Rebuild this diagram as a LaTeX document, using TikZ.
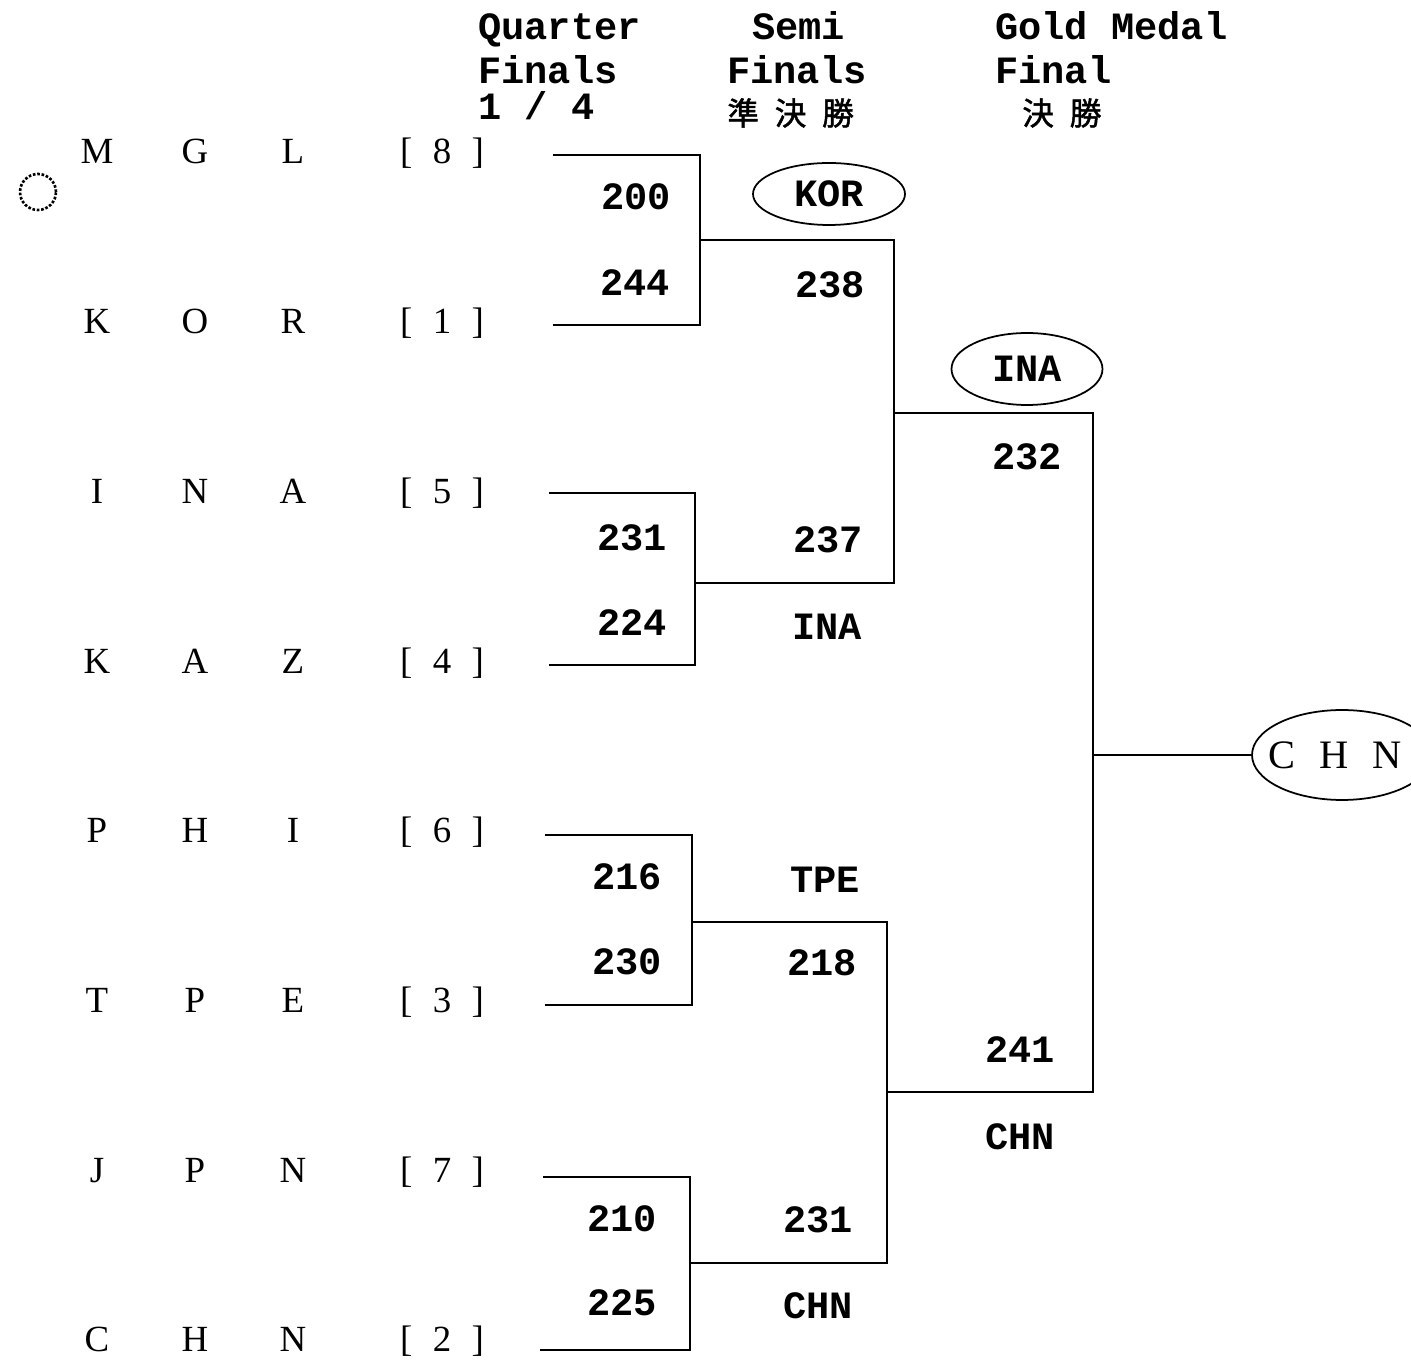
\documentclass[tikz,border=0pt]{standalone}
\usepackage{fontspec}
\setmainfont{Liberation Serif}
\setmonofont{Liberation Mono}
\newfontfamily\cjk{Noto Sans CJK JP}[FakeBold=1.5]
\usepackage{tikz}
\usetikzlibrary{shapes.geometric}

\begin{document}
\begin{tikzpicture}[x=0.02cm, y=-0.02cm,
  team/.style={font=\fontsize{21}{21}\selectfont, anchor=base, inner sep=0pt},
  score/.style={font=\ttfamily\bfseries\fontsize{22}{22}\selectfont, anchor=base, inner sep=0pt},
  head/.style={font=\ttfamily\bfseries\fontsize{22}{22}\selectfont, anchor=base west, inner sep=0pt},
  kanji/.style={font=\cjk\fontsize{18}{18}\selectfont, anchor=base west, inner sep=0pt},
  medal/.style={ellipse, draw, line width=1pt, inner sep=0pt},
  bracket/.style={line width=1.3pt}]
  \useasboundingbox (0,0) rectangle (1411,1364);
  % column heads
  \node[head] (hq1) at (478,40) {Quarter};
  \node[head] (hq2) at (478,84) {Finals};
  \node[head] (hq3) at (478,120) {1 / 4};
  \node[head] (hs1) at (752,40) {Semi};
  \node[head] (hs2) at (727,84) {Finals};
  \node[kanji] (hs3) at (727,125) {準\hspace{9pt}決\hspace{9pt}勝};
  \node[head] (hg1) at (995,40) {Gold Medal};
  \node[head] (hg2) at (995,84) {Final};
  \node[kanji] (hg3) at (1022,125) {決\hspace{9pt}勝};
  % teams and seeds
  \foreach \a/\b/\c/\s [count=\i] in {M/G/L/8, K/O/R/1, I/N/A/5, K/A/Z/4, P/H/I/6, T/P/E/3, J/P/N/7, C/H/N/2} {
    \pgfmathsetmacro\yb{164+169.7*(\i-1)}
    \node[team] (t\i a) at (97,\yb) {\a};
    \node[team] (t\i b) at (195,\yb) {\b};
    \node[team] (t\i c) at (293,\yb) {\c};
    \node[team] (seed\i) at (442,\yb) {[\hspace{0.55em}\s\hspace{0.55em}]};
  }
  \draw[densely dotted, line width=1.5pt] (38,192) circle [radius=0.36cm];
  % bracket points
  \coordinate (e1) at (553,155); \coordinate (e2) at (553,325);
  \coordinate (e3) at (549,493); \coordinate (e4) at (549,665);
  \coordinate (e5) at (545,835); \coordinate (e6) at (545,1005);
  \coordinate (e7) at (543,1177); \coordinate (e8) at (540,1350);
  \coordinate (q1) at (700,240); \coordinate (q2) at (695,583);
  \coordinate (q3) at (692,922); \coordinate (q4) at (690,1263);
  \coordinate (sf1) at (894,413); \coordinate (sf2) at (887,1092);
  \coordinate (fj) at (1093,755);
  \draw[bracket] (e1) -| (q1) |- (e2);
  \draw[bracket] (e3) -| (q2) |- (e4);
  \draw[bracket] (e5) -| (q3) |- (e6);
  \draw[bracket] (e7) -| (q4) |- (e8);
  \draw[bracket] (q1) -| (sf1) |- (q2);
  \draw[bracket] (q3) -| (sf2) |- (q4);
  \draw[bracket] (sf1) -| (fj) |- (sf2);
  % winners
  \node[medal, minimum width=3.04cm, minimum height=1.24cm, font=\ttfamily\bfseries\fontsize{22}{22}\selectfont] (kor) at (829,194) {KOR};
  \node[medal, minimum width=3.02cm, minimum height=1.44cm, font=\ttfamily\bfseries\fontsize{22}{22}\selectfont] (ina) at (1027,369) {INA};
  \node[medal, minimum width=3.6cm, minimum height=1.8cm] (champ) at (1342,755) {};
  \node[font=\fontsize{23}{23}\selectfont, inner sep=0pt] (champtxt) at (1335,755) {C\hspace{0.6em}H\hspace{0.6em}N};
  \draw[bracket] (fj) -- (champ);
  % scores
  \node[score] (p1) at (636,210) {200};
  \node[score] (p2) at (635,296) {244};
  \node[score] (p3) at (632,551) {231};
  \node[score] (p4) at (632,636) {224};
  \node[score] (p5) at (627,890) {216};
  \node[score] (p6) at (627,975) {230};
  \node[score] (p7) at (622,1231) {210};
  \node[score] (p8) at (622,1315) {225};
  \node[score] (r1) at (830,298) {238};
  \node[score] (r2) at (828,553) {237};
  \node[score] (w2) at (827,640) {INA};
  \node[score] (w3) at (825,893) {TPE};
  \node[score] (r3) at (822,976) {218};
  \node[score] (r4) at (818,1233) {231};
  \node[score] (w4) at (818,1318) {CHN};
  \node[score] (g1) at (1027,470) {232};
  \node[score] (g2) at (1020,1063) {241};
  \node[score] (wg) at (1020,1150) {CHN};
\end{tikzpicture}
\end{document}
